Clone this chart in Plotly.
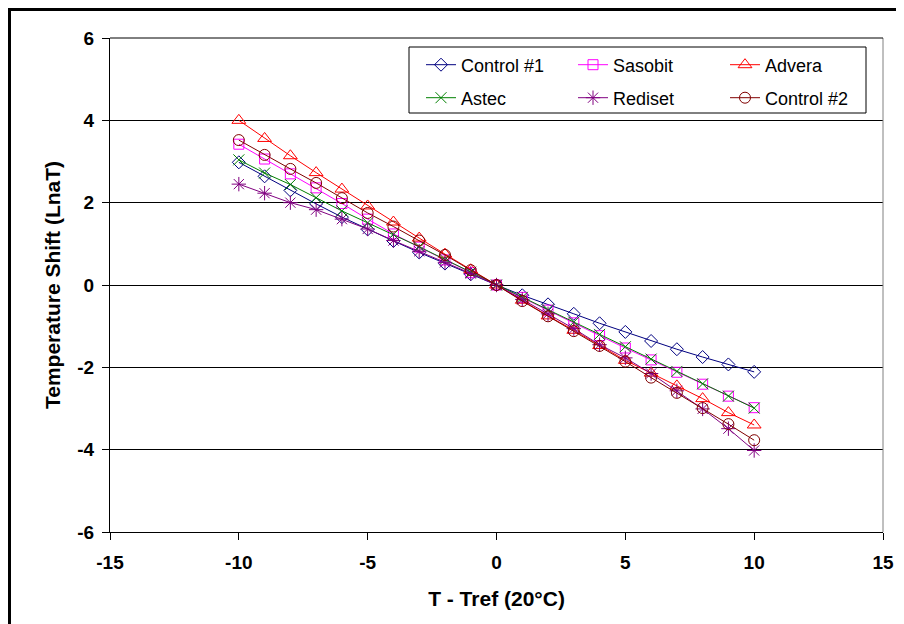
import plotly.graph_objects as go

x_values = [-10, -9, -8, -7, -6, -5, -4, -3, -2, -1, 0, 1, 2, 3, 4, 5, 6, 7, 8, 9, 10]

control1 = [2.98, 2.64, 2.30, 1.97, 1.65, 1.35, 1.07, 0.79, 0.52, 0.26, 0, -0.25, -0.47, -0.70, -0.93, -1.14, -1.36, -1.56, -1.75, -1.93, -2.11]
sasobit = [3.42, 3.06, 2.70, 2.36, 1.98, 1.60, 1.24, 0.92, 0.61, 0.30, 0, -0.30, -0.61, -0.92, -1.23, -1.53, -1.82, -2.12, -2.41, -2.70, -2.98]
advera = [4.00, 3.56, 3.14, 2.73, 2.33, 1.92, 1.53, 1.14, 0.75, 0.37, 0, -0.37, -0.75, -1.10, -1.47, -1.83, -2.14, -2.45, -2.76, -3.10, -3.40]
astec = [3.04, 2.72, 2.44, 2.12, 1.80, 1.51, 1.23, 0.93, 0.62, 0.31, 0, -0.30, -0.60, -0.90, -1.20, -1.50, -1.80, -2.10, -2.40, -2.70, -2.99]
rediset = [2.45, 2.23, 2.00, 1.83, 1.60, 1.36, 1.08, 0.82, 0.55, 0.28, 0, -0.35, -0.70, -1.06, -1.45, -1.77, -2.15, -2.57, -3.01, -3.49, -4.02]
control2 = [3.52, 3.16, 2.82, 2.48, 2.11, 1.75, 1.42, 1.08, 0.73, 0.36, 0, -0.39, -0.76, -1.12, -1.48, -1.86, -2.25, -2.62, -2.99, -3.38, -3.77]

x_ticks = [-15, -10, -5, 0, 5, 10, 15]
y_ticks = [-6, -4, -2, 0, 2, 4, 6]

FONT = "Liberation Sans, Arial, sans-serif"

series = [
    ("Control #1", control1, "#000080", "diamond-open", 10, "legend"),
    ("Sasobit", sasobit, "#FF00FF", "square-open", 10, "legend"),
    ("Advera", advera, "#FF0000", "triangle-up-open", 12, "legend"),
    ("Astec", astec, "#008000", "x-thin-open", 11, "legend2"),
    ("Rediset", rediset, "#800080", "asterisk-open", 12, "legend2"),
    ("Control #2", control2, "#800000", "circle-open", 11, "legend2"),
]

fig = go.Figure()
for name, vals, color, sym, size, leg in series:
    fig.add_trace(go.Scatter(
        x=x_values, y=vals, name=name, mode="lines+markers",
        line=dict(color=color, width=1),
        marker=dict(symbol=sym, size=size, color=color, line=dict(color=color, width=1)),
        legend=leg,
    ))

# page body has an 8px margin, so figure coordinates are screen - 8
W, H = 896, 616
L, R, T, B = 102, 21, 30, 92
pw, ph = W - L - R, H - T - B

def px2x(px):
    return (px - L) / pw

def px2y(py):
    return (H - B - py) / ph

legend_common = dict(
    orientation="h", xanchor="left", yanchor="middle",
    font=dict(family=FONT, size=18, color="black"),
    bgcolor="rgba(0,0,0,0)", borderwidth=0,
    entrywidth=107, entrywidthmode="pixels", itemwidth=30,
    tracegroupgap=0,
)

fig.update_layout(
    width=W, height=H,
    margin=dict(l=L, r=R, t=T, b=B, autoexpand=False),
    paper_bgcolor="white", plot_bgcolor="white",
    font=dict(family=FONT, color="black"),
    showlegend=True,
    legend=dict(x=px2x(413), y=px2y(57), **legend_common),
    legend2=dict(x=px2x(413), y=px2y(90), **legend_common),
    xaxis=dict(
        range=[-15, 15], tickvals=x_ticks, ticktext=[str(v) for v in x_ticks],
        showgrid=False, zeroline=False, automargin=False,
        showline=True, linecolor="black", linewidth=1,
        ticks="outside", ticklen=7, tickcolor="black", tickwidth=1,
        ticklabelstandoff=6,
        tickfont=dict(family=FONT, size=19, color="black", weight="bold"),
        title=dict(text="<b>T - Tref (20°C)</b>", font=dict(family=FONT, size=21, color="black"), standoff=19),
    ),
    yaxis=dict(
        range=[-6, 6], tickvals=y_ticks, ticktext=[str(v) for v in y_ticks],
        showgrid=True, gridcolor="black", gridwidth=1, zeroline=False, automargin=False,
        showline=True, linecolor="black", linewidth=1,
        ticks="outside", ticklen=7, tickcolor="black", tickwidth=1,
        ticklabelstandoff=4,
        tickfont=dict(family=FONT, size=19, color="black", weight="bold"),
        title=dict(text="<b>Temperature Shift (LnaT)</b>", font=dict(family=FONT, size=21, color="black"), standoff=10),
    ),
    shapes=[
        dict(type="line", xref="paper", yref="paper", x0=1, x1=1, y0=0, y1=1,
             line=dict(color="#808080", width=1)),
        dict(type="line", xref="paper", yref="paper", x0=0, x1=1, y0=1, y1=1,
             line=dict(color="black", width=1)),
        dict(type="rect", xref="paper", yref="paper",
             x0=px2x(401), x1=px2x(858), y0=px2y(105), y1=px2y(39),
             line=dict(color="black", width=1), fillcolor="white", layer="below"),
        dict(type="rect", xref="paper", yref="paper",
             x0=px2x(1.5), x1=px2x(910), y0=px2y(640), y1=px2y(1.5),
             line=dict(color="black", width=3)),
    ],
)

fig.write_html("out.html")
